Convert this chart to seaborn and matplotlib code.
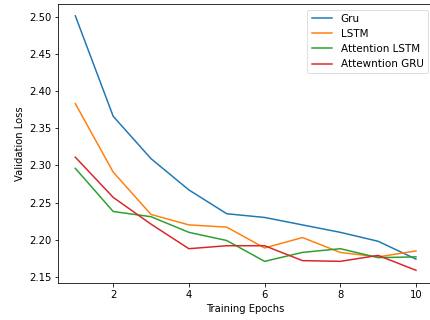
import matplotlib
matplotlib.use("Agg")
import matplotlib.pyplot as plt
import seaborn as sns
import pandas as pd

epochs = [1, 2, 3, 4, 5, 6, 7, 8, 9, 10]
gru = [2.501, 2.366, 2.309, 2.267, 2.235, 2.230, 2.220, 2.210, 2.198, 2.174]
lstm = [2.383, 2.291, 2.234, 2.220, 2.217, 2.189, 2.203, 2.183, 2.177, 2.185]
att_lstm = [2.296, 2.238, 2.231, 2.210, 2.199, 2.171, 2.183, 2.188, 2.176, 2.177]
att_gru = [2.311, 2.257, 2.221, 2.188, 2.192, 2.192, 2.172, 2.171, 2.179, 2.159]
names = ["Gru", "LSTM", "Attention LSTM", "Attewntion GRU"]

rows = []
for name, vals in zip(names, [gru, lstm, att_lstm, att_gru]):
    for e, v in zip(epochs, vals):
        rows.append({"epoch": e, "loss": v, "model": name})
df = pd.DataFrame(rows)

s = 0.72
plt.rcParams.update({
    "font.size": 10 * s,
    "axes.linewidth": 0.8 * s,
    "xtick.major.size": 3.5 * s,
    "ytick.major.size": 3.5 * s,
    "xtick.major.width": 0.8 * s,
    "ytick.major.width": 0.8 * s,
    "xtick.major.pad": 3.5 * s,
    "ytick.major.pad": 3.5 * s,
    "axes.labelpad": 4 * s,
})

fig = plt.figure(figsize=(4.31, 3.2), dpi=100)
ax = fig.add_axes([58.3 / 431, 36.7 / 320, (433 - 58.3) / 431, (283.3 - 4.3) / 320])
sns.lineplot(data=df, x="epoch", y="loss", hue="model", hue_order=names,
             palette=["#1f77b4", "#ff7f0e", "#2ca02c", "#d62728"],
             linewidth=1.5 * s, ax=ax)
ax.set_xlabel("Training Epochs")
ax.set_ylabel("Validation Loss")
ax.set_xticks([2, 4, 6, 8, 10])
ax.set_yticks([2.15, 2.20, 2.25, 2.30, 2.35, 2.40, 2.45, 2.50])
ax.set_xlim(0.55, 10.45)
ax.set_ylim(2.1415, 2.5165)
leg = ax.legend(loc="upper right", frameon=True, handlelength=2.0, fontsize=7.5,
                borderpad=0.4, labelspacing=0.5, handletextpad=0.8, borderaxespad=0.5)
leg.get_frame().set_linewidth(0.8 * s)
fig.savefig("out.png", dpi=100)
